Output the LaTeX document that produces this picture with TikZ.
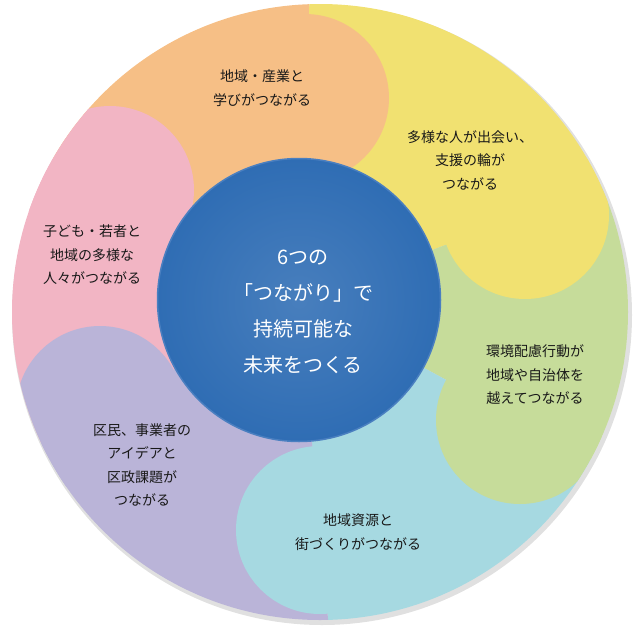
\documentclass[tikz,border=0pt]{standalone}
\usepackage{fontspec}
\setmainfont{Noto Sans CJK JP}
\begin{document}
\begin{tikzpicture}[x=1pt,y=-1pt,
  lbl/.style={align=center,font=\fontsize{14}{23.5}\selectfont,text=black!90},
  ctr/.style={align=center,font=\fontsize{20}{36}\selectfont,text=white}]
\definecolor{cor}{HTML}{F6BF86}\definecolor{cye}{HTML}{F1E171}
\definecolor{cgr}{HTML}{C6DC9A}\definecolor{ccy}{HTML}{A6D9E1}
\definecolor{cpu}{HTML}{BAB4D8}\definecolor{cpi}{HTML}{F2B5C4}
\definecolor{cbl}{HTML}{2F6DB4}\definecolor{cbd}{HTML}{4A7FC0}
\useasboundingbox (0,0) rectangle (640,640);
\coordinate (C) at (299,300);
\coordinate (O) at (320,312);
\fill[black!12] (322,315) circle[radius=310];
\begin{scope}
\clip (O) circle[radius=308];
\fill[cor] (C) -- ++(-150:600) arc[start angle=-150,end angle=-88,radius=600] -- cycle;
\fill[cye] (C) -- ++(-88:600) arc[start angle=-88,end angle=-20.6,radius=600] -- cycle;
\fill[cgr] (C) -- ++(-20.6:600) arc[start angle=-20.6,end angle=28.5,radius=600] -- cycle;
\fill[ccy] (C) -- ++(28.5:600) arc[start angle=28.5,end angle=84.8,radius=600] -- cycle;
\fill[cpu] (C) -- ++(84.8:600) arc[start angle=84.8,end angle=151,radius=600] -- cycle;
\fill[cpi] (C) -- ++(151:600) arc[start angle=151,end angle=210,radius=600] -- cycle;
\fill[cor] (305,98) circle[radius=84];
\fill[cye] (525,215) circle[radius=84];
\fill[cgr] (520,420) circle[radius=84];
\fill[ccy] (320,530) circle[radius=84];
\fill[cpu] (100,410) circle[radius=84];
\fill[cpi] (110,190) circle[radius=84];
\end{scope}
\node[circle,minimum size=283,inner sep=0,draw=cbd,line width=1.5,inner color=cbl!88!white,outer color=cbl] (B) at (C) {};
\node[ctr] (tc) at (303,312) {6つの\\「つながり」で\\持続可能な\\未来をつくる};
\node[lbl] (t1) at (262,88) {地域・産業と\\学びがつながる};
\node[lbl] (t2) at (470,160) {多様な人が出会い、\\支援の輪が\\つながる};
\node[lbl] (t3) at (535,375) {環境配慮行動が\\地域や自治体を\\越えてつながる};
\node[lbl] (t4) at (358,532) {地域資源と\\街づくりがつながる};
\node[lbl] (t5) at (142,465) {区民、事業者の\\アイデアと\\区政課題が\\つながる};
\node[lbl] (t6) at (92,255) {子ども・若者と\\地域の多様な\\人々がつながる};
\end{tikzpicture}
\end{document}
